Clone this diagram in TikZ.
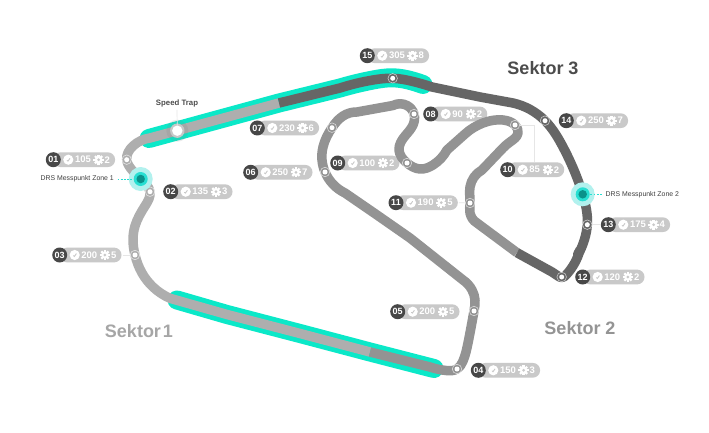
\documentclass[tikz,border=0pt]{standalone}
\usepackage{fontspec}
\setmainfont{Liberation Sans}
\usetikzlibrary{backgrounds,hobby}
\definecolor{trackLight}{HTML}{AEAEAE}
\definecolor{trackMid}{HTML}{939393}
\definecolor{trackDark}{HTML}{666666}
\definecolor{zoneTeal}{HTML}{0BE8C8}
\definecolor{pillGray}{HTML}{C9C9C9}
\definecolor{badgeDark}{HTML}{474747}
\definecolor{hintGray}{HTML}{E6E6E6}
\definecolor{HaloTeal}{HTML}{B2F1EE}
\definecolor{MidTeal}{HTML}{27DFD2}
\definecolor{CoreTeal}{HTML}{0A918A}
\tikzset{
  x=1pt, y=-1pt,
  trackline/.style={line width=9.5pt, line join=round},
  zoneline/.style={zoneTeal, line width=19pt, line cap=round, line join=round},
  hint/.style={hintGray, line width=.7pt},
  ringmark/.style={circle, draw=white, draw opacity=.65, line width=.6pt, minimum size=9.5pt, inner sep=0pt},
  numdisc/.style={circle, fill=badgeDark, text=white, minimum size=15pt, inner sep=0pt, font=\bfseries\fontsize{9}{10}\selectfont},
  pilltext/.style={text=white, inner sep=0pt, anchor=west, font=\bfseries\fontsize{9.5}{11}\selectfont},
  drslabel/.style={text=black!75, inner sep=0pt, font=\fontsize{6.9}{9}\selectfont},
  sektor/.style={inner sep=0pt, font=\bfseries\fontsize{18}{20}\selectfont},
  gearmark/.pic={
    \foreach \a in {0,45,...,315}
      \fill[white, rotate=\a] (-1.1,-5.1) rectangle (1.1,0);
    \fill[white] (0,0) circle (3.7);
    \fill[pillGray] (0,0) circle (1.5);
  },
  checkmark/.pic={
    \fill[white] (0,0) circle (5.1);
    \draw[pillGray, line width=.9pt, line cap=round] (-1.2,.7) -- (-.3,1.4) -- (1.6,-1.3);
  }
}
% \badge{id}{x}{y}{speed}{gear count}: numbered disc, speed and gear read-out on a pill
\newcommand{\badge}[5]{%
  \node[numdisc] (n#1) at (#2,#3) {#1};
  \pic at ([xshift=15pt]n#1.center) {checkmark};
  \node[pilltext] (s#1) at ([xshift=21.5pt]n#1.center) {#4};
  \pic at ([xshift=7.5pt]s#1.east) {gearmark};
  \node[pilltext] (c#1) at ([xshift=13.4pt]s#1.east) {#5};
  \begin{scope}[on background layer]
    \fill[pillGray, rounded corners=7.4pt] ([yshift=-7.4pt]n#1.center) rectangle ([xshift=5pt,yshift=7.4pt]c#1.east |- n#1.center);
  \end{scope}
}
% \trackpoint{id}{x}{y}: numbered corner position on the circuit
\newcommand{\trackpoint}[3]{%
  \node[ringmark] (m#1) at (#2,#3) {};
  \fill[white] (m#1.center) circle (2.5);
}
% \drszone{name}{x}{y}: DRS measuring point with its halo
\newcommand{\drszone}[3]{%
  \fill[HaloTeal] (#2,#3) circle (12);
  \fill[MidTeal] (#2,#3) circle (7);
  \node[circle, fill=CoreTeal, minimum size=8.5pt, inner sep=0pt] (#1) at (#2,#3) {};
}
\begin{document}
\begin{tikzpicture}
\useasboundingbox (0,0) rectangle (709,433);
\begin{scope}[on background layer]
  \fill[white] (0,0) rectangle (709,433);
\end{scope}

% DRS zones
\path[zoneline, draw=zoneTeal] (149,138.5) -- (279,103) -- (340,88)
  to[curve through={(373,80) (392.7,77.8) (413,81.2)}] (423,84.5);
\path[zoneline, draw=zoneTeal] (177,300) -- (227,314.5) -- (300,333.5) -- (370,352) -- (434,368.5);

% Circuit, one stroke per sector
\draw[trackline, trackLight] (279,103) -- (150,138)
  to[curve through={(133,146) (126.7,159.7) (132,170) (140.7,179) (150,192) (145,206) (135,226) (133,240) (135,255) (142,273) (153,287)}] (170,298.3)
  -- (227,314.5) -- (300,333.5) -- (370,352);
\draw[trackline, trackMid] (370,352) -- (430,367)
  to[curve through={(446,370.5) (457,369) (463,361) (468,343) (474,311) (475,300) (472,290)}] (463,280)
  -- (410,238) -- (377,215) -- (345,193)
  to[curve through={(325,172) (322,160) (323,147) (332,127.7) (343,116)}] (357,112)
  -- (393,105.5)
  to[curve through={(407,105.5) (414,114) (413,125) (405,136) (399,150) (407,163) (420,169) (433,165)}] (447,150)
  -- (465,134)
  to[curve through={(483,123) (503,120) (515,125) (518,133) (510,142)}] (503,148)
  -- (482,170)
  to[curve through={(470,187) (470,203) (470,213)}] (477,223)
  -- (517,252.7);
\draw[trackline, trackDark] (517,252.7) -- (552,272)
  to[curve through={(558,276) (562,277.5) (566,275)}] (580,250)
  to[curve through={(587.3,224.7) (582.7,194.3) (563,147) (545,120.7)}] (513,103)
  -- (480,97) -- (432,87)
  to[curve through={(413,81.5) (392.7,78.3) (373,80)}] (340,88)
  -- (279,103);

% Corner positions
\trackpoint{01}{126.7}{159.7}
\trackpoint{02}{150}{191.7}
\trackpoint{03}{135}{255}
\trackpoint{04}{457}{369}
\trackpoint{05}{474}{311}
\trackpoint{06}{325}{172}
\trackpoint{07}{332}{127.7}
\trackpoint{08}{414}{114}
\trackpoint{09}{407}{163}
\trackpoint{10}{515}{125}
\trackpoint{11}{470}{203}
\trackpoint{12}{561.7}{277}
\trackpoint{13}{587.3}{224.7}
\trackpoint{14}{545}{120.7}
\trackpoint{15}{392.7}{78.3}

% Corner read-outs
\badge{01}{53.3}{159.7}{105}{2}
\badge{02}{170.7}{191.7}{135}{3}
\badge{03}{59.7}{255}{200}{5}
\badge{04}{478.3}{370.3}{150}{3}
\badge{05}{397.7}{311.7}{200}{5}
\badge{06}{250.7}{172.3}{250}{7}
\badge{07}{257.3}{128}{230}{6}
\badge{08}{430.7}{114}{90}{2}
\badge{09}{337.7}{163}{100}{2}
\badge{10}{507.7}{169.7}{85}{2}
\badge{11}{396}{202.7}{190}{5}
\badge{12}{582.7}{277}{120}{2}
\badge{13}{608.3}{224.7}{175}{4}
\badge{14}{566.3}{120.7}{250}{7}
\badge{15}{367.3}{55.7}{305}{8}

% Leader lines between read-outs and the circuit
\coordinate (bend10) at (534,125);
\draw[hint] (m10) -- (bend10) -- (bend10 |- n10.north);
\draw[hint] (c03.east) ++(6,0) -- (m03);
\draw[hint] (c11.east) ++(6,0) -- (m11);
\draw[hint] (m13) -- ([xshift=-1pt]n13.west);

% Speed trap
\node[inner sep=0pt, font=\bfseries\fontsize{7.8}{10}\selectfont, text=black!70] (speedlabel) at (177,103) {Speed Trap};
\fill[gray, opacity=.16] (177.3,130.7) circle (11);
\fill[black!22] (177.3,130.7) circle (7.2);
\node[circle, fill=white, minimum size=10.4pt, inner sep=0pt] (speedtrap) at (177.3,130.7) {};
\draw[hint] (speedlabel.south) ++(0,3) -- (speedtrap);

% DRS measuring points
\drszone{drs1}{140.7}{179}
\drszone{drs2}{582.7}{194.3}
\node[drslabel, anchor=east] (drslabel1) at (114,179) {DRS Messpunkt Zone 1};
\node[drslabel, anchor=west] (drslabel2) at (605.5,194.3) {DRS Messpunkt Zone 2};
\draw[MidTeal, line width=.8pt, dash pattern=on 1.8pt off 1.4pt] (drslabel1.east) ++(3.5,0) -- (drs1.west);
\draw[MidTeal, line width=.8pt, dash pattern=on 1.8pt off 1.4pt] (drs2.east) -- ([xshift=-2.5pt]drslabel2.west);

% Sector names
\node[sektor, text=black!35] (sektor1) at (139,331) {Sektor\kern-3pt{} 1};
\node[sektor, text=black!42] (sektor2) at (580,328) {Sektor 2};
\node[sektor, text=black!70] (sektor3) at (543,68) {Sektor 3};
\end{tikzpicture}
\end{document}
